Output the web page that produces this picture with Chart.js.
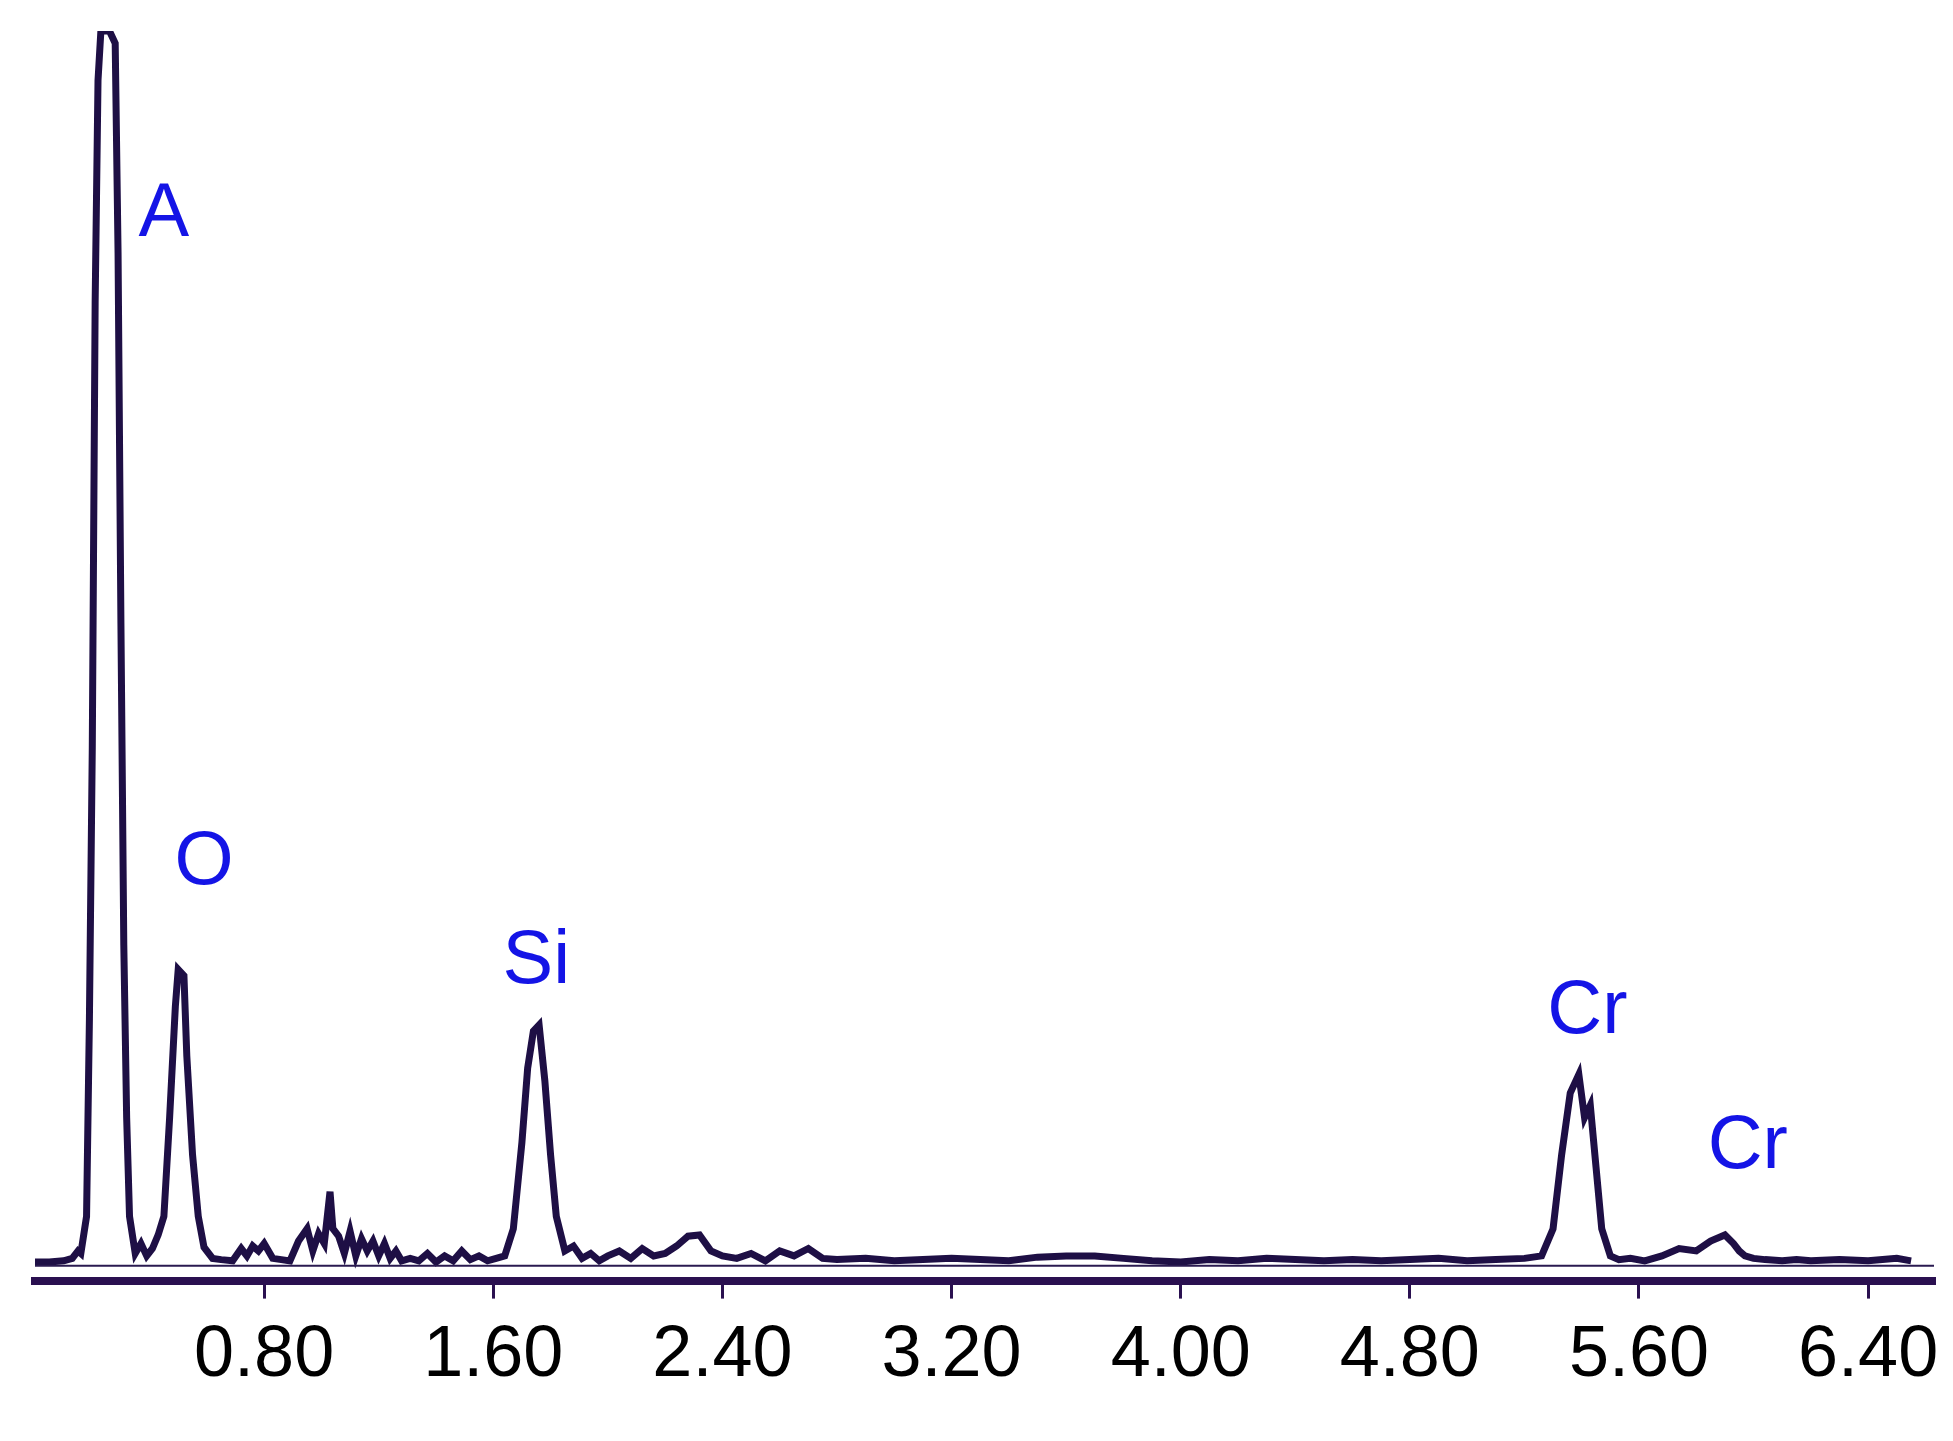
<!DOCTYPE html>
<html><head><meta charset="utf-8">
<script src="https://cdn.jsdelivr.net/npm/chart.js@4"></script>
<style>html,body{margin:0;background:#fff}#w{width:1953px;height:1441px}</style>
</head><body><div id="w"><canvas id="c"></canvas></div>
<script>
const energy = [0.00,0.05,0.10,0.13,0.15,0.16,0.18,0.19,0.20,0.21,0.22,0.23,0.24,0.26,0.28,0.29,0.30,0.31,0.32,0.33,0.35,0.37,0.39,0.41,0.43,0.45,0.47,0.49,0.50,0.52,0.53,0.55,0.57,0.59,0.62,0.65,0.69,0.72,0.74,0.76,0.78,0.80,0.83,0.86,0.89,0.92,0.95,0.97,0.99,1.01,1.03,1.04,1.06,1.08,1.10,1.12,1.14,1.16,1.18,1.20,1.22,1.24,1.26,1.28,1.31,1.34,1.37,1.40,1.43,1.46,1.49,1.52,1.55,1.58,1.61,1.64,1.67,1.70,1.72,1.74,1.76,1.78,1.80,1.82,1.85,1.88,1.91,1.94,1.97,2.00,2.04,2.08,2.12,2.16,2.20,2.24,2.28,2.32,2.36,2.40,2.45,2.50,2.55,2.60,2.65,2.70,2.75,2.80,2.90,3.00,3.10,3.20,3.30,3.40,3.50,3.60,3.70,3.80,3.90,4.00,4.10,4.20,4.30,4.40,4.50,4.60,4.70,4.80,4.90,5.00,5.10,5.20,5.26,5.30,5.33,5.36,5.39,5.41,5.43,5.45,5.47,5.50,5.53,5.57,5.62,5.68,5.74,5.80,5.85,5.90,5.93,5.95,5.97,6.00,6.04,6.10,6.15,6.20,6.30,6.40,6.50,6.55,6.63];
const counts = [3,3,4,6,12,10,40,200,420,780,960,1000,1000,1000,990,820,520,260,120,40,10,18,8,14,25,40,120,210,240,235,170,90,40,15,6,5,4,14,8,16,12,18,6,5,4,20,30,12,26,18,60,30,24,10,28,8,22,12,20,8,18,6,12,4,6,4,10,3,8,4,12,5,8,4,6,8,30,100,160,190,195,150,90,40,12,16,6,10,4,8,12,6,14,8,10,16,24,25,12,8,6,10,4,12,8,14,6,5,6,4,5,6,5,4,7,8,8,6,4,3,5,4,6,5,4,5,4,5,6,4,5,6,8,30,90,140,155,120,130,80,30,8,5,6,4,8,14,12,20,25,18,12,8,6,5,4,5,4,5,4,6,4];
const tickValues = [0.8,1.6,2.4,3.2,4.0,4.8,5.6,6.4];
const peakNames = ["A","O","Si","Cr","Cr"];
const peakEnergy = [0.45,0.59,1.75,5.42,5.98];
const peakLabelY = [820,295,215,175,65];

const pts = energy.map((e,i)=>({x:e,y:counts[i]}));
const bg = energy.map(e=>({x:e,y:0}));
const labelPlugin = {id:'lbl',afterDatasetsDraw(ch){
  const {ctx,scales:{x,y}} = ch; ctx.save();
  ctx.fillStyle='#1414e6'; ctx.font='76px "Liberation Sans", Arial, sans-serif';
  ctx.textAlign='center'; ctx.textBaseline='bottom';
  peakNames.forEach((n,i)=>ctx.fillText(n,x.getPixelForValue(peakEnergy[i]),y.getPixelForValue(peakLabelY[i])));
  ctx.restore();}};
new Chart(document.getElementById('c'),{
  type:'line',
  data:{datasets:[
    {data:bg,borderColor:'#2a1a50',borderWidth:2,pointRadius:0,tension:0},
    {data:pts,borderColor:'#1e0f45',borderWidth:7,pointRadius:0,tension:0}]},
  options:{responsive:true,maintainAspectRatio:false,animation:false,
    layout:{padding:{top:31,left:35,right:19,bottom:28}},
    plugins:{legend:{display:false},tooltip:{enabled:false}},
    scales:{
      x:{type:'linear',min:0,max:6.63,
        afterBuildTicks(ax){ax.ticks=tickValues.map(v=>({value:v}));},
        grid:{drawOnChartArea:false,drawTicks:true,tickLength:18,color:'#2a1050',lineWidth:3},
        border:{display:true,color:'#2a1050',width:8},
        ticks:{color:'#000',padding:14,maxRotation:0,autoSkip:false,
          font:{size:72,family:'"Liberation Sans Narrow", "Liberation Sans", Arial'},
          callback:v=>v.toFixed(2)}},
      y:{display:false,min:-12,max:1000}
    }},
  plugins:[labelPlugin]
});
</script></body></html>
